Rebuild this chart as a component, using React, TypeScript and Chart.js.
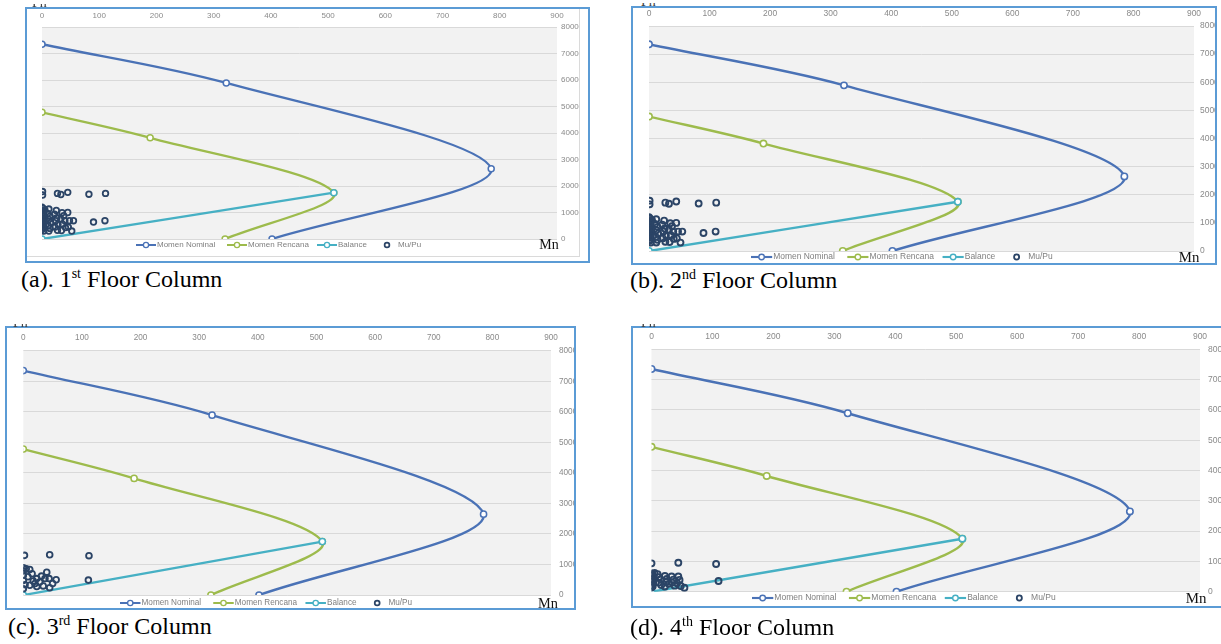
import React, { useEffect, useRef } from "react";
import { Chart, registerables } from "chart.js";

Chart.register(...registerables);

// ================= DATA =================
const xTickValues = [0, 100, 200, 300, 400, 500, 600, 700, 800, 900];
const yTickValues = [0, 1000, 2000, 3000, 4000, 5000, 6000, 7000, 8000];

const seriesLabels = ["Momen Nominal", "Momen Rencana", "Balance", "Mu/Pu"];

// Interaction diagram curves (x = Mn, y = Pn)
const momenNominalMn = [0, 322, 785, 402];
const momenNominalPn = [7350, 5890, 2650, 0];
const momenRencanaMn = [0, 189, 510, 320];
const momenRencanaPn = [4780, 3820, 1750, 0];
const balanceMn = [0, 510];
const balancePn = [0, 1750];

// Mu/Pu load points per floor
const floor1Mu = [1, 1, 27, 33, 45, 82, 111, 90, 110,
  0, 2, 5, 0, 3, 0, 2, 0, 4, 0, 2, 0, 3, 0, 2, 0, 3,
  12, 10, 14, 12, 15, 11, 14, 12,
  25, 22, 26, 24, 28, 23, 27,
  35, 38, 33, 40, 36, 41, 34,
  45, 48, 46, 52, 55];
const floor1Pu = [1790, 1660, 1720, 1680, 1760, 1690, 1720, 640, 690,
  1200, 1150, 1100, 1050, 980, 920, 860, 800, 740, 690, 640, 580, 520, 470, 410, 360, 300,
  1130, 960, 860, 740, 620, 500, 400, 300,
  1080, 940, 800, 690, 560, 450, 330,
  990, 880, 760, 690, 560, 430, 320,
  1000, 690, 450, 300, 690];

const floor2Mu = [1, 1, 27, 33, 45, 82, 111, 90, 110,
  0, 2, 5, 0, 3, 0, 2, 0, 4, 0, 2, 0, 3, 0, 2, 0, 3,
  12, 10, 14, 12, 15, 11, 14, 12,
  25, 22, 26, 24, 28, 23, 27,
  35, 38, 33, 40, 36, 41, 34,
  45, 48, 46, 52, 55];
const floor2Pu = [1790, 1660, 1720, 1680, 1760, 1690, 1720, 640, 690,
  1200, 1150, 1100, 1050, 980, 920, 860, 800, 740, 690, 640, 580, 520, 470, 410, 360, 300,
  1130, 960, 860, 740, 620, 500, 400, 300,
  1080, 940, 800, 690, 560, 450, 330,
  990, 880, 760, 690, 560, 430, 320,
  1000, 690, 450, 300, 690];

const floor3Mu = [2, 45, 112, 111, 0, 0, 11, 15, 23, 31, 40, 44, 56, 45,
  34, 23, 11, 0, 0, 0, 17, 28, 37, 5, 8, 20, 50, 3];
const floor3Pu = [1300, 1320, 1290, 490, 895, 786, 840, 700, 540, 620, 750, 540, 500, 240,
  300, 280, 320, 210, 480, 650, 460, 430, 540, 860, 600, 380, 380, 340];

const floor4Mu = [0, 44, 106, 110, 0, 2, 5, 10, 0, 3, 0, 2, 0, 3, 0, 2, 0,
  12, 15, 12, 16, 22, 25, 24, 28, 22, 33, 36, 34, 38, 44, 46, 42, 48, 54];
const floor4Pu = [935, 957, 913, 352, 600, 560, 620, 580, 520, 470, 420, 380, 330, 280, 230, 180, 140,
  480, 400, 300, 220, 520, 420, 330, 260, 170, 500, 400, 300, 200, 500, 390, 280, 190, 130];

const captionLetters = ["a", "b", "c", "d"];
const floorNumbers = ["1", "2", "3", "4"];
const floorSuffixes = ["st", "nd", "rd", "th"];

// ================= STYLE / LAYOUT =================
const FONT_SANS = '"Liberation Sans", Arial, sans-serif';
const FONT_SERIF = '"Liberation Serif", "Times New Roman", serif';
const C_NOM = "#4a72b6";
const C_REN = "#9dbb4c";
const C_BAL = "#46b0c4";
const C_MU = "#2b4466";
const TICK_COLOR = "#8a8a8a";
const GRID_COLOR = "#d9d9d9";
const BORDER_COLOR = "#5b9bd5";
const LEGEND_OFFSETS = [0, 91, 181, 241];

type Layout = {
  border: number[];
  plot: number[];
  legend: number[];
  mn: number[];
  pn: number[];
  caption: number[];
  xPad: number;
  yPad: number;
  frame?: number[];
};

const layouts: Layout[] = [
  { border: [25, 7, 590, 263], plot: [42, 27, 557, 239], legend: [136, 245], mn: [549, 245], pn: [32, 4], caption: [21, 281], xPad: 6, yPad: 4, frame: [580, 257] },
  { border: [631, 6, 1217, 265], plot: [649, 26, 1194, 251], legend: [751, 257], mn: [1189, 257], pn: [641, 3], caption: [630, 282], xPad: 7, yPad: 6 },
  { border: [5, 326, 576, 610], plot: [23.3, 350.7, 551, 595.7], legend: [120, 603], mn: [548, 603], pn: [13, 324], caption: [8, 628], xPad: 8, yPad: 8 },
  { border: [631, 326, 1228, 608], plot: [651.5, 349.3, 1200, 591.7], legend: [752, 598], mn: [1196, 598], pn: [641, 324], caption: [630, 629], xPad: 8, yPad: 8 },
];

const pts = (xs: number[], ys: number[]) => xs.map((x, i) => ({ x, y: ys[i] }));

function Panel({ layout, mu, pu, idx }: { layout: Layout; mu: number[]; pu: number[]; idx: number }) {
  const canvasRef = useRef<HTMLCanvasElement | null>(null);
  const BW = 2;
  const [bl, bt, br, bb] = layout.border;
  const innerL = bl + BW;
  const innerT = bt + BW;
  const innerH = bb - bt - 2 * BW;
  const [pl, pt, pr, pb] = layout.plot;
  const s = (pr - pl) / 515;
  const yAxisW = 40;
  const canvasW = Math.ceil(pr - innerL + yAxisW);
  const canvasH = innerH;

  useEffect(() => {
    const canvas = canvasRef.current;
    if (!canvas) return;
    const chartL = pl - innerL;
    const chartT = pt - innerT;
    const chartR = pr - innerL;
    const chartB = pb - innerT;
    const fs = 8 * s;
    const legendColors = [C_NOM, C_REN, C_BAL, C_MU];

    const decor = {
      id: "decor",
      beforeDraw(chart: any) {
        const { ctx, chartArea: a } = chart;
        ctx.save();
        ctx.fillStyle = "#f2f2f2";
        ctx.fillRect(a.left, a.top, a.right - a.left, a.bottom - a.top);
        ctx.restore();
      },
      afterDraw(chart: any) {
        const { ctx } = chart;
        ctx.save();
        ctx.font = `${fs}px ${FONT_SANS}`;
        ctx.textBaseline = "middle";
        ctx.textAlign = "left";
        const ly = layout.legend[1] - innerT;
        seriesLabels.forEach((label, i) => {
          const x0 = layout.legend[0] - innerL + LEGEND_OFFSETS[i] * s;
          const iconW = 20 * s;
          const cx = x0 + iconW / 2;
          const color = legendColors[i];
          if (i < 3) {
            ctx.strokeStyle = color;
            ctx.lineWidth = 2 * s;
            ctx.beginPath();
            ctx.moveTo(x0, ly);
            ctx.lineTo(x0 + iconW, ly);
            ctx.stroke();
            ctx.beginPath();
            ctx.arc(cx, ly, 2.6 * s, 0, Math.PI * 2);
            ctx.fillStyle = "#fff";
            ctx.fill();
            ctx.lineWidth = 1.3 * s;
            ctx.stroke();
          } else {
            ctx.beginPath();
            ctx.arc(cx, ly, 2.4 * s, 0, Math.PI * 2);
            ctx.strokeStyle = color;
            ctx.lineWidth = 1.7 * s;
            ctx.stroke();
          }
          ctx.fillStyle = "#808080";
          ctx.fillText(label, x0 + 21 * s, ly);
        });
        ctx.restore();
      },
    };

    const lineDs = (label: string, xs: number[], ys: number[], color: string, order: number) => ({
      label,
      data: pts(xs, ys),
      showLine: true,
      borderColor: color,
      borderWidth: 2.3 * s,
      tension: 0.32,
      pointRadius: 3 * s,
      pointBorderWidth: 1.5 * s,
      pointBackgroundColor: "#ffffff",
      pointBorderColor: color,
      order,
    });

    const tickFont = { family: FONT_SANS, size: fs };

    const chart = new Chart(canvas, {
      type: "scatter",
      data: {
        datasets: [
          lineDs(seriesLabels[0], momenNominalMn, momenNominalPn, C_NOM, 4),
          lineDs(seriesLabels[1], momenRencanaMn, momenRencanaPn, C_REN, 3),
          lineDs(seriesLabels[2], balanceMn, balancePn, C_BAL, 2),
          {
            label: seriesLabels[3],
            data: pts(mu, pu),
            showLine: false,
            pointRadius: 2.8 * s,
            pointBorderWidth: 1.8 * s,
            pointBorderColor: C_MU,
            pointBackgroundColor: "rgba(0,0,0,0)",
            order: 1,
          },
        ] as any,
      },
      options: {
        animation: false,
        responsive: false,
        devicePixelRatio: 1,
        events: [],
        layout: { padding: { left: chartL, top: 0, right: 0, bottom: canvasH - chartB } },
        plugins: { legend: { display: false }, tooltip: { enabled: false } },
        scales: {
          x: {
            type: "linear",
            position: "top",
            min: 0,
            max: 900,
            afterBuildTicks: (sc: any) => {
              sc.ticks = xTickValues.map((v) => ({ value: v }));
            },
            afterFit: (sc: any) => {
              sc.height = chartT;
            },
            grid: { display: false, drawTicks: false },
            border: { display: false },
            ticks: {
              padding: layout.xPad,
              color: TICK_COLOR,
              font: tickFont,
              maxRotation: 0,
              autoSkip: false,
              callback: (v: any) => String(v),
            },
          },
          y: {
            type: "linear",
            position: "right",
            min: 0,
            max: 8000,
            afterBuildTicks: (sc: any) => {
              sc.ticks = yTickValues.map((v) => ({ value: v }));
            },
            afterFit: (sc: any) => {
              sc.width = canvasW - chartR;
            },
            grid: { color: GRID_COLOR, lineWidth: 1, drawTicks: false },
            border: { display: false },
            ticks: {
              padding: layout.yPad,
              color: TICK_COLOR,
              font: tickFont,
              autoSkip: false,
              callback: (v: any) => String(v),
            },
          },
        },
      } as any,
      plugins: [decor],
    });
    return () => chart.destroy();
  }, []);

  const mnSize = 14 * s;
  return (
    <>
      <div
        style={{
          position: "absolute",
          left: bl,
          top: bt,
          width: br - bl,
          height: bb - bt,
          border: `${BW}px solid ${BORDER_COLOR}`,
          boxSizing: "border-box",
          overflow: "hidden",
          background: "#fff",
        }}
      >
        <canvas
          ref={canvasRef}
          width={canvasW}
          height={canvasH}
          style={{ position: "absolute", left: 0, top: 0, width: canvasW, height: canvasH }}
        />
        {layout.frame && (
          <div
            style={{
              position: "absolute",
              left: -4,
              top: -4,
              width: layout.frame[0] - innerL + 4,
              height: layout.frame[1] - innerT + 4,
              border: "1px solid #dadada",
              boxSizing: "border-box",
            }}
          />
        )}
        <span
          style={{
            position: "absolute",
            left: layout.mn[0] - innerL,
            top: layout.mn[1] - innerT,
            transform: "translate(-50%, -50%)",
            fontFamily: FONT_SERIF,
            fontSize: mnSize,
            lineHeight: 1,
            color: "#111",
            whiteSpace: "nowrap",
          }}
        >
          Mn
        </span>
      </div>
      <div
        style={{
          position: "absolute",
          left: layout.pn[0],
          top: layout.pn[1],
          width: 16,
          height: 5,
          overflow: "hidden",
        }}
      >
        <span
          style={{
            position: "absolute",
            left: 0,
            top: -8,
            fontFamily: FONT_SERIF,
            fontSize: 14,
            lineHeight: "14px",
            color: "#444",
          }}
        >
          Pn
        </span>
      </div>
      <div
        style={{
          position: "absolute",
          left: layout.caption[0],
          top: layout.caption[1] - 14,
          fontFamily: FONT_SERIF,
          fontSize: 24,
          lineHeight: "24px",
          whiteSpace: "nowrap",
          color: "#000",
        }}
      >
        ({captionLetters[idx]}). {floorNumbers[idx]}
        <sup style={{ fontSize: 14, lineHeight: 0 }}>{floorSuffixes[idx]}</sup> Floor Column
      </div>
    </>
  );
}

export default function App() {
  const muSets = [floor1Mu, floor2Mu, floor3Mu, floor4Mu];
  const puSets = [floor1Pu, floor2Pu, floor3Pu, floor4Pu];
  return (
    <div
      style={{
        position: "absolute",
        left: 0,
        top: 0,
        width: 1221,
        height: 644,
        overflow: "hidden",
        background: "#fff",
      }}
    >
      {layouts.map((l, i) => (
        <Panel key={i} layout={l} mu={muSets[i]} pu={puSets[i]} idx={i} />
      ))}
    </div>
  );
}
